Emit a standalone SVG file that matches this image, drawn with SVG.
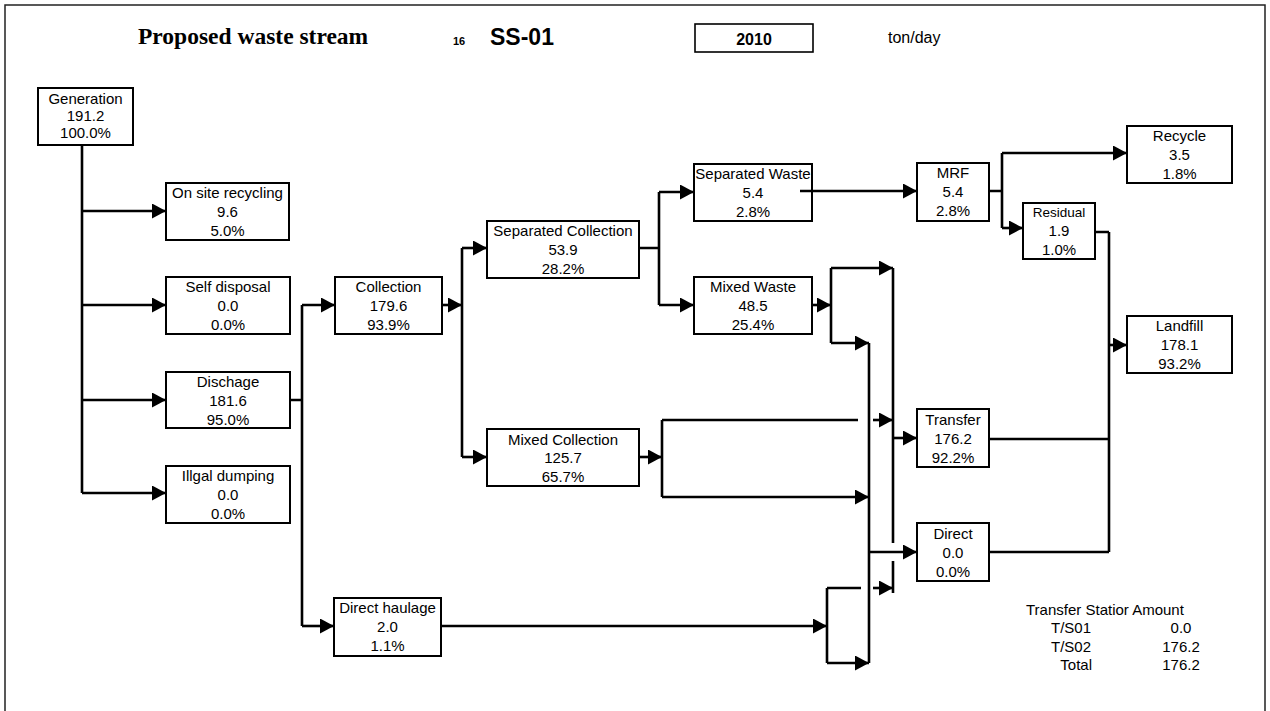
<svg xmlns="http://www.w3.org/2000/svg" width="1270" height="711" viewBox="0 0 1270 711">
<style>
.bg{fill:#fff}
.frame{fill:none;stroke:#222;stroke-width:1.5}
.box{fill:#fff;stroke:#000;stroke-width:2}
.t{font-family:"Liberation Sans",Arial,sans-serif;font-size:15px;fill:#000;text-anchor:middle}
.ts{font-size:13.5px}
.c{fill:none;stroke:#000;stroke-width:2.6}
.a{marker-end:url(#ah)}
.tab{font-family:"Liberation Sans",Arial,sans-serif;font-size:15px;fill:#000}
</style>
<defs>
<marker id="ah" markerUnits="userSpaceOnUse" markerWidth="15" markerHeight="15" refX="14" refY="7.5" orient="auto" viewBox="0 0 15 15">
<path d="M0,0 L14,7.5 L0,15 Z" fill="#000"/>
</marker>
</defs>
<rect class="bg" x="0" y="0" width="1270" height="711"/>
<path class="frame" d="M5,711 V5 H1265 V711"/>

<g id="header">
<text x="138" y="44" font-family="'Liberation Serif','Times New Roman',serif" font-weight="bold" font-size="23.5">Proposed waste stream</text>
<text x="453" y="45" font-family="'Liberation Sans',Arial,sans-serif" font-weight="bold" font-size="11">16</text>
<text x="490" y="45" font-family="'Liberation Sans',Arial,sans-serif" font-weight="bold" font-size="23">SS-01</text>
<rect x="695" y="24" width="118" height="28" fill="#fff" stroke="#000" stroke-width="1.6"/>
<text x="754" y="45" font-family="'Liberation Sans',Arial,sans-serif" font-weight="bold" font-size="16" text-anchor="middle">2010</text>
<text x="888" y="43" font-family="'Liberation Sans',Arial,sans-serif" font-size="16">ton/day</text>
</g>

<g id="n-generation"><rect class="box" x="38" y="88" width="95" height="57"/>
<text class="t" x="85.5" y="104">Generation</text><text class="t" x="85.5" y="121">191.2</text><text class="t" x="85.5" y="138">100.0%</text></g>

<g id="n-onsite"><rect class="box" x="166" y="183" width="123" height="57"/>
<text class="t" x="227.5" y="198">On site recycling</text><text class="t" x="227.5" y="217">9.6</text><text class="t" x="227.5" y="236">5.0%</text></g>

<g id="n-self"><rect class="box" x="166" y="277" width="124" height="57"/>
<text class="t" x="228" y="292">Self disposal</text><text class="t" x="228" y="311">0.0</text><text class="t" x="228" y="330">0.0%</text></g>

<g id="n-dischage"><rect class="box" x="166" y="372" width="124" height="56"/>
<text class="t" x="228" y="387">Dischage</text><text class="t" x="228" y="406">181.6</text><text class="t" x="228" y="425">95.0%</text></g>

<g id="n-illgal"><rect class="box" x="166" y="466" width="124" height="57"/>
<text class="t" x="228" y="481">Illgal dumping</text><text class="t" x="228" y="500">0.0</text><text class="t" x="228" y="519">0.0%</text></g>

<g id="n-collection"><rect class="box" x="335" y="277" width="107" height="57"/>
<text class="t" x="388.5" y="292">Collection</text><text class="t" x="388.5" y="311">179.6</text><text class="t" x="388.5" y="330">93.9%</text></g>

<g id="n-directhaulage"><rect class="box" x="334" y="598" width="107" height="58"/>
<text class="t" x="387.5" y="613">Direct haulage</text><text class="t" x="387.5" y="632">2.0</text><text class="t" x="387.5" y="651">1.1%</text></g>

<g id="n-sepcoll"><rect class="box" x="487" y="221" width="152" height="57"/>
<text class="t" x="563" y="236">Separated Collection</text><text class="t" x="563" y="255">53.9</text><text class="t" x="563" y="274">28.2%</text></g>

<g id="n-mixcoll"><rect class="box" x="487" y="429" width="152" height="57"/>
<text class="t" x="563" y="445">Mixed Collection</text><text class="t" x="563" y="463">125.7</text><text class="t" x="563" y="482">65.7%</text></g>

<g id="n-sepwaste"><rect class="box" x="694" y="164" width="118" height="57"/>
<text class="t" x="753" y="179">Separated Waste</text><text class="t" x="753" y="198">5.4</text><text class="t" x="753" y="217">2.8%</text></g>

<g id="n-mixwaste"><rect class="box" x="694" y="277" width="118" height="57"/>
<text class="t" x="753" y="292">Mixed Waste</text><text class="t" x="753" y="311">48.5</text><text class="t" x="753" y="330">25.4%</text></g>

<g id="n-mrf"><rect class="box" x="917" y="163" width="72" height="58"/>
<text class="t" x="953" y="178">MRF</text><text class="t" x="953" y="197">5.4</text><text class="t" x="953" y="216">2.8%</text></g>

<g id="n-residual"><rect class="box" x="1023" y="203" width="72" height="56"/>
<text class="t ts" x="1059" y="217">Residual</text><text class="t" x="1059" y="236">1.9</text><text class="t" x="1059" y="255">1.0%</text></g>

<g id="n-recycle"><rect class="box" x="1127" y="126" width="105" height="57"/>
<text class="t" x="1179.5" y="141">Recycle</text><text class="t" x="1179.5" y="160">3.5</text><text class="t" x="1179.5" y="179">1.8%</text></g>

<g id="n-landfill"><rect class="box" x="1127" y="316" width="105" height="57"/>
<text class="t" x="1179.5" y="331">Landfill</text><text class="t" x="1179.5" y="350">178.1</text><text class="t" x="1179.5" y="369">93.2%</text></g>

<g id="n-transfer"><rect class="box" x="917" y="409" width="72" height="58"/>
<text class="t" x="953" y="425">Transfer</text><text class="t" x="953" y="444">176.2</text><text class="t" x="953" y="463">92.2%</text></g>

<g id="n-direct"><rect class="box" x="917" y="523" width="72" height="58"/>
<text class="t" x="953" y="539">Direct</text><text class="t" x="953" y="558">0.0</text><text class="t" x="953" y="577">0.0%</text></g>

<g id="connectors">
<path class="c" d="M82,145 V493"/>
<path class="c a" d="M82,211 H166"/>
<path class="c a" d="M82,305 H166"/>
<path class="c a" d="M82,400 H166"/>
<path class="c a" d="M82,493 H166"/>
<path class="c" d="M290,400 H302 M302,305 V626"/>
<path class="c a" d="M302,305 H335"/>
<path class="c a" d="M302,626 H334"/>
<path class="c a" d="M442,305 H462"/>
<path class="c" d="M462,248 V457"/>
<path class="c a" d="M462,248 H487"/>
<path class="c a" d="M462,457 H487"/>
<path class="c" d="M639,248 H659 M659,192 V305"/>
<path class="c a" d="M659,192 H694"/>
<path class="c a" d="M659,305 H694"/>
<path class="c a" d="M800,191 H917"/>
<path class="c a" d="M812,305 H831"/>
<path class="c" d="M831,268 V343"/>
<path class="c a" d="M831,268 H893"/>
<path class="c a" d="M831,343 H869"/>
<path class="c" d="M893,268 V543 M893,561 V593"/>
<path class="c" d="M869,343 V663"/>
<path class="c a" d="M639,457 H662"/>
<path class="c" d="M662,420 V497 M662,420 H858"/>
<path class="c a" d="M873,420 H893"/>
<path class="c a" d="M662,497 H869"/>
<path class="c a" d="M893,438 H917"/>
<path class="c a" d="M869,552 H917"/>
<path class="c a" d="M441,626 H827"/>
<path class="c" d="M827,588 V663 M827,588 H861"/>
<path class="c a" d="M873,588 H893"/>
<path class="c a" d="M827,663 H869"/>
<path class="c" d="M989,439 H1109 M989,552 H1109 M1095,232 H1109 M1109,232 V552"/>
<path class="c a" d="M1109,345 H1127"/>
<path class="c" d="M989,191 H1002 M1002,153 V228"/>
<path class="c a" d="M1002,153 H1127"/>
<path class="c a" d="M1002,228 H1023"/>
</g>

<g id="ts-table">
<text class="tab" x="1026" y="615">Transfer Statior Amount</text>
<text class="tab" x="1091" y="633" text-anchor="end">T/S01</text>
<text class="tab" x="1181" y="633" text-anchor="middle">0.0</text>
<text class="tab" x="1091" y="652" text-anchor="end">T/S02</text>
<text class="tab" x="1181" y="652" text-anchor="middle">176.2</text>
<text class="tab" x="1092" y="670" text-anchor="end">Total</text>
<text class="tab" x="1181" y="670" text-anchor="middle">176.2</text>
</g>
</svg>
